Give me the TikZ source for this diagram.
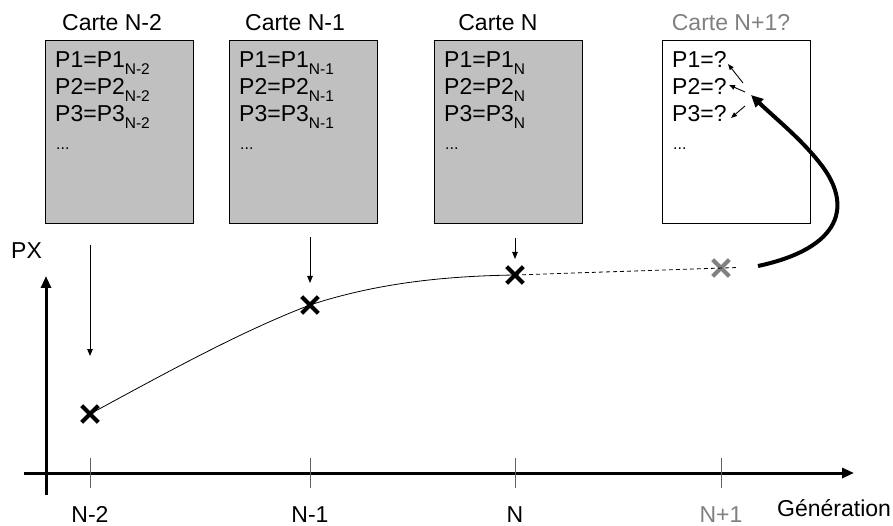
\documentclass[tikz,border=0pt]{standalone}
\usepackage{fontspec}
\setmainfont{Liberation Sans}
\usetikzlibrary{arrows.meta,shapes.misc}
\definecolor{boxgray}{HTML}{C0C0C0}
\definecolor{txtgray}{HTML}{808080}
\definecolor{tickgray}{HTML}{606060}
\newcommand\sbs[1]{\raisebox{-7pt}{\fontsize{15.5}{15.5}\selectfont #1}}
\tikzset{
  carte/.style={draw, line width=1.3pt, minimum width=148pt, minimum height=183pt, inner sep=0pt, anchor=north west},
  titre/.style={anchor=base, font=\fontsize{23}{26}\selectfont, inner sep=0pt},
  ligne/.style={anchor=base west, font=\fontsize{23}{26}\selectfont, inner sep=0pt},
  dots/.style={anchor=base west, font=\fontsize{16}{18}\selectfont, inner sep=0pt},
  croix/.style={cross out, draw, line width=4.2pt, minimum size=12.5pt, inner sep=0pt},
  thinarrow/.style={-{Triangle[length=7pt,width=5.5pt]}, line width=0.9pt},
  tickline/.style={draw=tickgray, line width=1pt},
  lab/.style={anchor=base, font=\fontsize{23}{26}\selectfont, inner sep=0pt},
}
\begin{document}
\begin{tikzpicture}[x=1pt,y=-1pt]
\useasboundingbox (0,0) rectangle (893,526);
% cards
\node[carte, fill=boxgray] (c1) at (45,40) {};
\node[carte, fill=boxgray] (c2) at (229,40) {};
\node[carte, fill=boxgray] (c3) at (434,40) {};
\node[carte, fill=white] (c4) at (662,40) {};
% titles
\node[titre] (t1) at (112,31) {Carte N-2};
\node[titre] (t2) at (295,31) {Carte N-1};
\node[titre] (t3) at (498,31) {Carte N};
\node[titre, text=txtgray] (t4) at (731,31) {Carte N+1?};
% card contents
\node[ligne] (c1a) at (55,68) {P1=P1\sbs{N-2}};
\node[ligne] (c1b) at (55,95) {P2=P2\sbs{N-2}};
\node[ligne] (c1c) at (55,122) {P3=P3\sbs{N-2}};
\node[dots] (c1d) at (56,150) {...};
\node[ligne] (c2a) at (239,68) {P1=P1\sbs{N-1}};
\node[ligne] (c2b) at (239,95) {P2=P2\sbs{N-1}};
\node[ligne] (c2c) at (239,122) {P3=P3\sbs{N-1}};
\node[dots] (c2d) at (240,150) {...};
\node[ligne] (c3a) at (444,68) {P1=P1\sbs{N}};
\node[ligne] (c3b) at (444,95) {P2=P2\sbs{N}};
\node[ligne] (c3c) at (444,122) {P3=P3\sbs{N}};
\node[dots] (c3d) at (445,150) {...};
\node[ligne] (c4a) at (672,68) {P1=?};
\node[ligne] (c4b) at (672,95) {P2=?};
\node[ligne] (c4c) at (672,122) {P3=?};
\node[dots] (c4d) at (673,150) {...};
% axes
\coordinate (xs) at (24,473);
\coordinate (xe) at (854,473);
\coordinate (ys) at (46,495);
\coordinate (ye) at (46,276);
\draw[line width=3pt, -{Triangle[length=12pt,width=10pt]}] (xs) -- (xe);
\draw[line width=3pt, -{Triangle[length=12pt,width=10pt]}] (ys) -- (ye);
\node[lab, anchor=base west] (px) at (11,259) {PX};
\node[lab, anchor=base west] (gen) at (777,516) {Génération};
% ticks
\foreach \x/\n in {90/k1,310/k2,515/k3,721/k4}{
  \coordinate (\n t) at (\x,458);
  \coordinate (\n b) at (\x,488);
  \draw[tickline] (\n t) -- (\n b);
}
\node[lab] (l1) at (90,522) {N-2};
\node[lab] (l2) at (310,522) {N-1};
\node[lab] (l3) at (515,522) {N};
\node[lab, text=txtgray] (l4) at (721,522) {N+1};
% points
\node[croix] (p1) at (90,414) {};
\node[croix] (p2) at (310,305) {};
\node[croix] (p3) at (515,275) {};
\node[croix, draw=txtgray] (p4) at (721,268) {};
\coordinate (dend) at (738,267.5);
% curve
\draw[line width=0.8pt] (p1.center) .. controls (180,365) and (245,330) .. (p2.center)
  .. controls (380,282) and (450,276) .. (p3.center);
\draw[line width=0.8pt, dash pattern=on 4pt off 3pt] (p3.center) -- (dend);
% down arrows
\coordinate (a1s) at (90,245); \coordinate (a1e) at (90,356);
\coordinate (a2s) at (310,237); \coordinate (a2e) at (310,283);
\coordinate (a3s) at (515,238); \coordinate (a3e) at (515,259);
\draw[thinarrow] (a1s) -- (a1e);
\draw[thinarrow] (a2s) -- (a2e);
\draw[thinarrow] (a3s) -- (a3e);
% big arrow
\coordinate (bs) at (758,266);
\coordinate (be) at (751,95);
\draw[line width=4pt, -{Triangle[length=12pt,width=11pt]}] (bs)
  .. controls (842,248) and (854,205) .. (819,162)
  .. controls (800,138) and (775,118) .. (be);
% small arrows in card N+1
\coordinate (s1s) at (743,83); \coordinate (s1e) at (728,64);
\coordinate (s2s) at (745,92); \coordinate (s2e) at (729,85);
\coordinate (s3s) at (745,106); \coordinate (s3e) at (731,118);
\draw[thinarrow, -{Triangle[length=6pt,width=4.5pt]}] (s1s) -- (s1e);
\draw[thinarrow, -{Triangle[length=6pt,width=4.5pt]}] (s2s) -- (s2e);
\draw[thinarrow, -{Triangle[length=6pt,width=4.5pt]}] (s3s) -- (s3e);
\end{tikzpicture}
\end{document}
